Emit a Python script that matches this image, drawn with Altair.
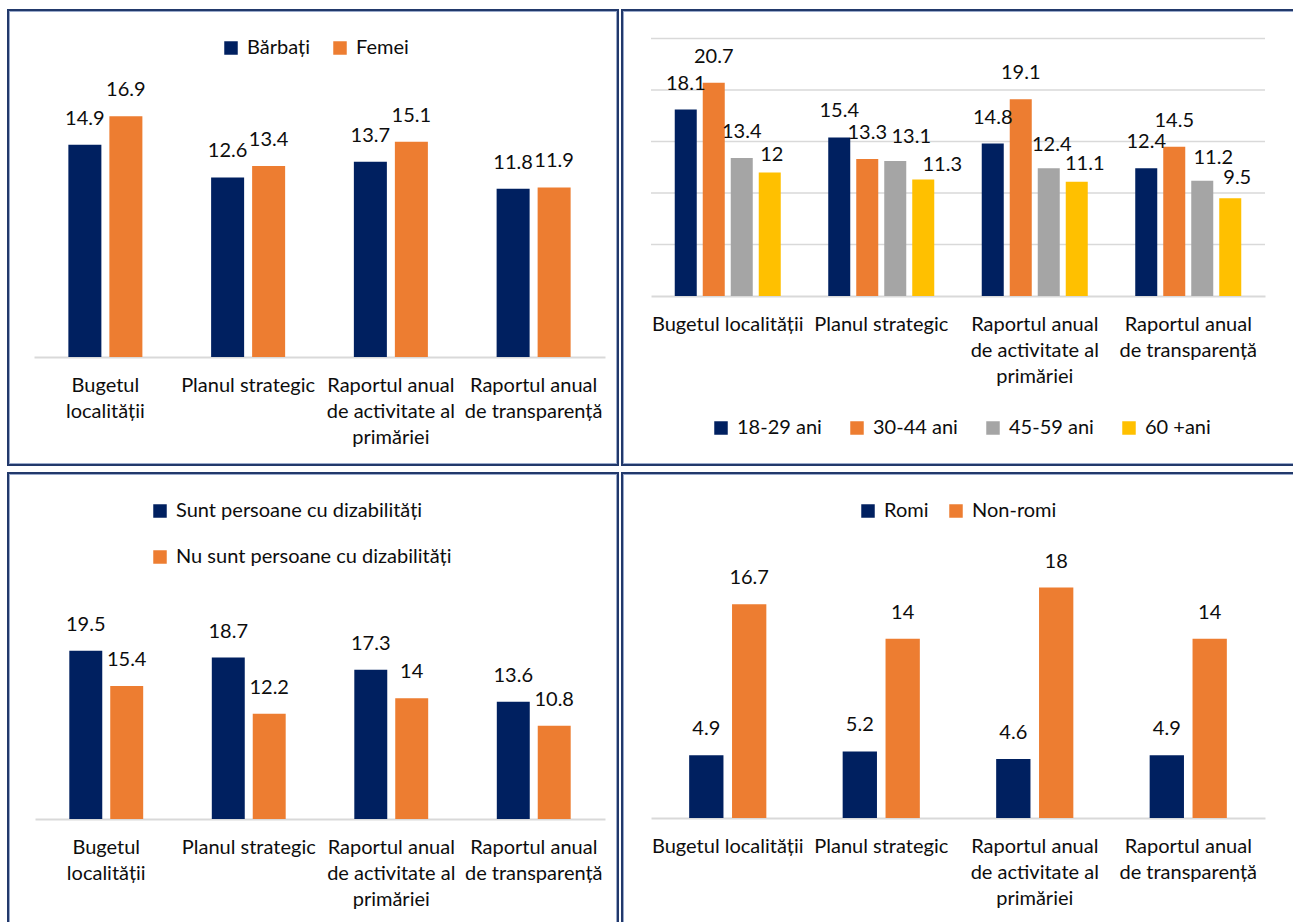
import altair as alt
import pandas as pd

# Category names; "|" marks a line break in the axis labels
cats_narrow = ["Bugetul|localității", "Planul strategic",
               "Raportul anual|de activitate al|primăriei", "Raportul anual|de transparență"]
cats_wide = ["Bugetul localității", "Planul strategic",
             "Raportul anual|de activitate al|primăriei", "Raportul anual|de transparență"]

gender_groups = ["Bărbați", "Femei"]
gender_men = [14.9, 12.6, 13.7, 11.8]
gender_women = [16.9, 13.4, 15.1, 11.9]

age_groups = ["18-29 ani", "30-44 ani", "45-59 ani", "60 +ani"]
age_18_29 = [18.1, 15.4, 14.8, 12.4]
age_30_44 = [20.7, 13.3, 19.1, 14.5]
age_45_59 = [13.4, 13.1, 12.4, 11.2]
age_60_plus = [12, 11.3, 11.1, 9.5]

dis_groups = ["Sunt persoane cu dizabilități", "Nu sunt persoane cu dizabilități"]
dis_yes = [19.5, 18.7, 17.3, 13.6]
dis_no = [15.4, 12.2, 14, 10.8]

roma_groups = ["Romi", "Non-romi"]
roma_yes = [4.9, 5.2, 4.6, 4.9]
roma_no = [16.7, 14, 18, 14]

age_grid = [5, 10, 15, 20, 25]

# Hand-placed value labels in the age panel: (category, group, dx, dy) in pixels
age_label_nudges = [
    ("Bugetul localității", "60 +ani", 2, -17),
    ("Planul strategic", "45-59 ani", 16, -24),
    ("Planul strategic", "60 +ani", 19, -15),
    ("Raportul anual|de activitate al|primăriei", "45-59 ani", 3, -23),
    ("Raportul anual|de activitate al|primăriei", "60 +ani", 8, -18),
    ("Raportul anual|de transparență", "45-59 ani", 11, -23),
    ("Raportul anual|de transparență", "60 +ani", 7, -20),
]

NAVY, ORANGE, GRAY, GOLD = "#002060", "#ED7D31", "#A5A5A5", "#FFC000"
FONT = "Lato"
TEXT = "#0d0d0d"
LINE = "#D9D9D9"
FRAME = "#22396B"
FRAME_HALO = "#9AAACB"
LABEL_DY = -26


def long_table(cats, groups, series):
    rows = []
    for g, vals in zip(groups, series):
        for c, v in zip(cats, vals):
            rows.append({"cat": c, "group": g, "value": v})
    return pd.DataFrame(rows)


def pair_test(cat, group):
    return f"(datum.cat === '{cat}' && datum.group === '{group}')"


def panel(df, cats, groups, colors, w, h, base, unit_px, y_max, x_span,
          pad_inner, pad_outer, legend, open_right, open_bottom, grid=None, nudges=()):
    y_scale = alt.Scale(domain=[0, y_max], range=[base, base - unit_px * y_max],
                        nice=False, zero=True)
    x_enc = alt.X(
        "cat:N", sort=cats,
        scale=alt.Scale(range=list(x_span), paddingInner=0, paddingOuter=0),
        axis=alt.Axis(title=None, orient="bottom", offset=base - h,
                      domainColor=LINE, domainWidth=2, ticks=False, grid=False,
                      labelAngle=0, labelExpr="split(datum.label, '|')",
                      labelFont=FONT, labelFontSize=20, labelColor=TEXT,
                      labelPadding=18, labelLineHeight=26, labelOverlap=False,
                      labelLimit=0, labelBaseline="top"),
    )
    xo_enc = alt.XOffset("group:N", sort=groups,
                         scale=alt.Scale(paddingInner=pad_inner, paddingOuter=pad_outer))
    y_enc = alt.Y("value:Q", scale=y_scale, axis=None)

    base_chart = alt.Chart(df).encode(x=x_enc, xOffset=xo_enc, y=y_enc)
    bars = base_chart.mark_bar().encode(
        color=alt.Color("group:N", sort=groups,
                        scale=alt.Scale(domain=groups, range=colors), legend=legend)
    )
    text_style = dict(baseline="middle", font=FONT, fontSize=20, color=TEXT)
    labels = base_chart.mark_text(dy=LABEL_DY, **text_style).encode(text="value:N")
    if nudges:
        skip = " || ".join(pair_test(c, g) for c, g, _, _ in nudges)
        labels = labels.transform_filter(f"!({skip})")
    nudged = [
        base_chart.transform_filter(pair_test(c, g))
        .mark_text(dx=dx, dy=dy, **text_style).encode(text="value:N")
        for c, g, dx, dy in nudges
    ]

    one = pd.DataFrame({"k": [0]})
    x2 = w + 6 if open_right else w - 1
    y2 = h + 6 if open_bottom else h - 1
    frame_pos = dict(x=alt.value(1), x2=alt.value(x2), y=alt.value(1), y2=alt.value(y2))
    halo = alt.Chart(one).mark_rect(clip=True, fillOpacity=0, stroke=FRAME_HALO,
                                    strokeWidth=4).encode(**frame_pos)
    frame = alt.Chart(one).mark_rect(clip=True, fillOpacity=0, stroke=FRAME,
                                     strokeWidth=2).encode(**frame_pos)

    layers = []
    if grid is not None:
        layers.append(
            alt.Chart(pd.DataFrame({"value": grid})).mark_rule(color=LINE, strokeWidth=1.5)
            .encode(y=y_enc, x=alt.value(x_span[0]), x2=alt.value(x_span[1]))
        )
    layers += [bars, labels, *nudged, halo, frame]
    return alt.layer(*layers).properties(width=w, height=h)


def legend(x, y, direction="horizontal", col_pad=20, row_pad=10):
    return alt.Legend(orient="none", legendX=x, legendY=y, direction=direction,
                      title=None, symbolType="square", symbolSize=182,
                      symbolStrokeWidth=0, labelFont=FONT, labelFontSize=20,
                      labelColor=TEXT, labelOffset=6, columnPadding=col_pad,
                      rowPadding=row_pad, padding=0, labelLimit=0)


gender_df = long_table(cats_narrow, gender_groups, [gender_men, gender_women])
age_df = long_table(cats_wide, age_groups, [age_18_29, age_30_44, age_45_59, age_60_plus])
dis_df = long_table(cats_narrow, dis_groups, [dis_yes, dis_no])
roma_df = long_table(cats_wide, roma_groups, [roma_yes, roma_no])

gender_chart = panel(gender_df, cats_narrow, gender_groups, [NAVY, ORANGE],
                     612, 457, 348, 14.25, 20, (27, 598), 0.195, 0.838,
                     legend(214, 29, col_pad=20), False, False)
age_chart = panel(age_df, cats_wide, age_groups, [NAVY, ORANGE, GRAY, GOLD],
                  672, 457, 287, 10.3, 25, (30, 644), 0.214, 0.848,
                  legend(90, 409, col_pad=25), True, False, grid=age_grid,
                  nudges=age_label_nudges)
dis_chart = panel(dis_df, cats_narrow, dis_groups, [NAVY, ORANGE],
                  612, 450, 347, 8.63, 25, (28, 598), 0.195, 0.838,
                  legend(143, 29, direction="vertical", row_pad=26), False, True)
roma_chart = panel(roma_df, cats_wide, roma_groups, [NAVY, ORANGE],
                   672, 450, 346, 12.8, 20, (30, 644), 0.2, 0.89,
                   legend(237, 29, col_pad=17), True, True)

indep = dict(x="independent", y="independent", xOffset="independent", color="independent")

top = alt.hconcat(gender_chart, age_chart, spacing=2).resolve_scale(**indep).resolve_legend(color="independent")
bottom = alt.hconcat(dis_chart, roma_chart, spacing=2).resolve_scale(**indep).resolve_legend(color="independent")

chart = (
    alt.vconcat(top, bottom, spacing=6)
    .resolve_scale(**indep)
    .resolve_legend(color="independent")
    .properties(padding={"left": 7, "top": 9, "right": 0, "bottom": 0}, background="white")
    .configure_view(strokeOpacity=0)
)

chart.save("out.html", embed_options={"renderer": "svg", "actions": False})
